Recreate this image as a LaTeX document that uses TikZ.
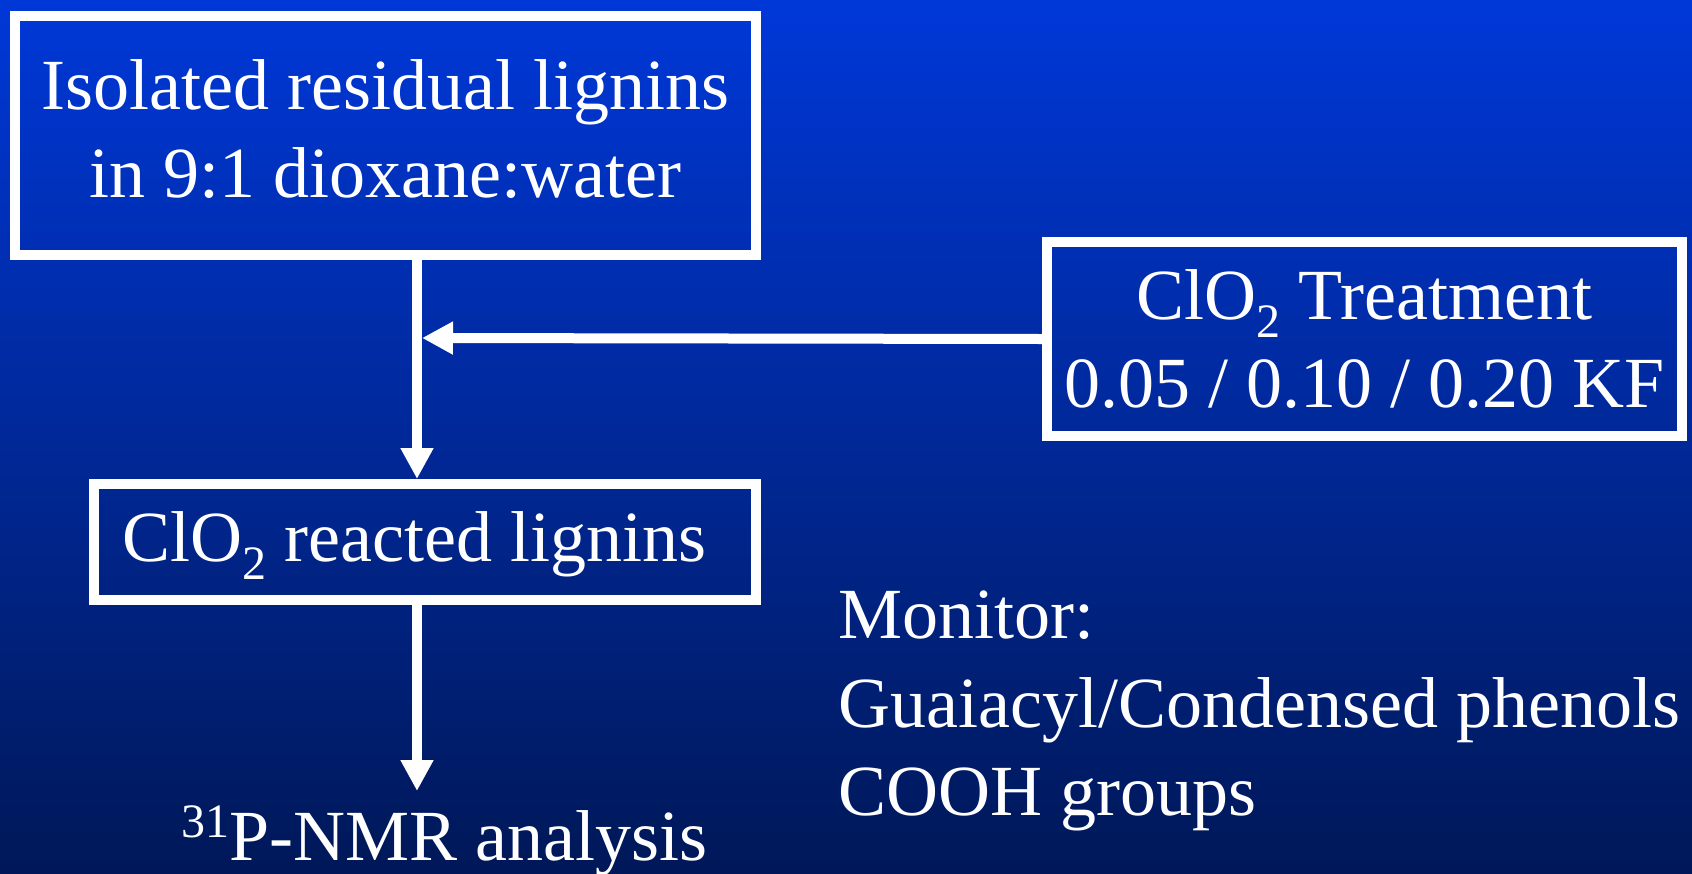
\documentclass[tikz,border=0pt]{standalone}
\usepackage{fontspec}
\setmainfont{Liberation Serif}
\usetikzlibrary{arrows.meta}
\definecolor{bgtop}{RGB}{0,56,216}
\definecolor{bgbot}{RGB}{0,24,88}
\newcommand\mysub[1]{\raisebox{-18pt}{\fontsize{48}{48}\selectfont #1}}
\newcommand\mysup[1]{\raisebox{23pt}{\fontsize{48}{48}\selectfont #1}}
\tikzset{
  box/.style={draw=white, line width=10pt, rectangle, inner sep=0pt, text=white, align=center},
  conn/.style={draw=white, line width=10pt, -{Triangle[width=31pt,length=31pt]}},
  label/.style={text=white, inner sep=0pt, align=left},
}
\begin{document}
\begin{tikzpicture}[x=1pt, y=-1pt, font=\fontsize{72}{88.5}\selectfont]
\shade[top color=bgtop, bottom color=bgbot] (0,0) rectangle (1692,873);
\useasboundingbox (0,0) rectangle (1692,873);

\node[box, minimum width=741pt, minimum height=239pt, text depth=14pt] (iso) at (385.5,135.5)
  {Isolated residual lignins\\in 9:1 dioxane:water};
\node[box, minimum width=635pt, minimum height=194pt] (treat) at (1364.5,339)
  {ClO\mysub{2} Treatment\\0.05 / 0.10 / 0.20 KF};
\node[box, minimum width=662pt, minimum height=116pt, text depth=10pt] (react) at (424.75,542)
  {ClO\mysub{2} reacted lignins\hspace*{20pt}};
\node[label, anchor=base west] (nmr) at (181,860) {\mysup{31}P-NMR analysis};
\node[label, anchor=north west] (mon) at (838,591)
  {Monitor:\\Guaiacyl/Condensed phenols\\COOH groups};

\coordinate (j) at (417,338);
\draw[conn] (iso.south -| j) -- (react.north -| j);
\draw[conn] (treat.west) -- ([xshift=5pt]j);
\draw[conn, shorten >=14pt] (react.south -| j) -- (nmr.north -| j);
\end{tikzpicture}
\end{document}
